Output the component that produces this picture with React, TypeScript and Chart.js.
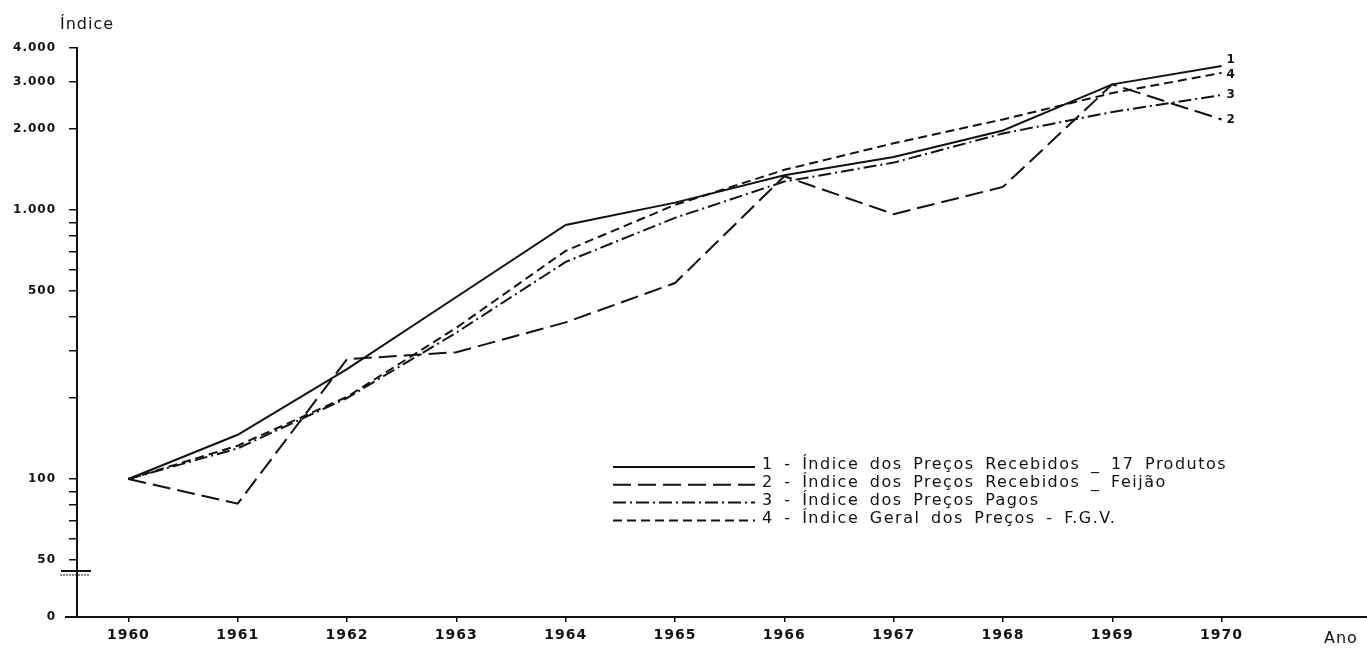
import React, { useEffect, useRef } from 'react';
import { Chart, registerables } from 'chart.js';

Chart.register(...registerables);

// ---- data ----
const YEARS = [1960, 1961, 1962, 1963, 1964, 1965, 1966, 1967, 1968, 1969, 1970];
const RECEBIDOS_17_PRODUTOS = [100, 146, 256, 475, 880, 1065, 1345, 1575, 1975, 2930, 3430];
const RECEBIDOS_FEIJAO = [100, 81, 279, 296, 382, 535, 1335, 965, 1218, 2930, 2170];
const PRECOS_PAGOS = [100, 130, 200, 350, 641, 935, 1275, 1500, 1925, 2313, 2676];
const GERAL_FGV = [100, 133, 202, 365, 705, 1045, 1410, 1770, 2170, 2720, 3232];

const SERIES_NAMES = [
  '1 - Índice dos Preços Recebidos _ 17 Produtos',
  '2 - Índice dos Preços Recebidos _ Feijão',
  '3 - Índice dos Preços Pagos',
  '4 - Índice Geral dos Preços - F.G.V.',
];
const END_TAGS = ['1', '2', '3', '4'];

const Y_TICK_VALUES = [50, 60, 70, 80, 90, 100, 200, 300, 400, 500, 600, 700, 800, 900, 1000, 2000, 3000, 4000];
const Y_TICK_LABELS: Record<number, string> = {
  50: '50', 100: '100', 500: '500', 1000: '1.000', 2000: '2.000', 3000: '3.000', 4000: '4.000',
};
const Y_ZERO = 30.7; // bottom of the broken axis, labelled "0"
const Y_ZERO_LABEL = '0';
const Y_MAX = 4000;
const X_MIN = 1959.53;
const X_MAX = 1971.33;
const Y_TITLE = 'Índice';
const X_TITLE = 'Ano';

const INK = '#111';
const FONT = '"DejaVu Sans", sans-serif';

const decorPlugin = {
  id: 'decor',
  beforeDraw(chart: any) {
    const ctx = chart.ctx;
    ctx.fillStyle = '#fff';
    ctx.fillRect(0, 0, chart.width, chart.height);
    (ctx as any).letterSpacing = '1px';
  },
  afterDraw(chart: any) {
    const ctx = chart.ctx;
    const { left, bottom } = chart.chartArea;
    const yScale = chart.scales.y;
    ctx.save();
    (ctx as any).letterSpacing = '0px';
    ctx.strokeStyle = INK;
    ctx.fillStyle = INK;
    ctx.setLineDash([]);

    // extend x axis a bit to the left of the y axis
    ctx.lineWidth = 2;
    ctx.beginPath();
    ctx.moveTo(left - 12, bottom);
    ctx.lineTo(left, bottom);
    ctx.stroke();

    // axis break marks
    const yb = yScale.getPixelForValue(50) + 11;
    ctx.lineWidth = 2;
    ctx.beginPath();
    ctx.moveTo(left - 16, yb);
    ctx.lineTo(left + 14, yb);
    ctx.stroke();
    ctx.lineWidth = 1;
    ctx.setLineDash([2, 1]);
    ctx.beginPath();
    ctx.moveTo(left - 17, yb + 4);
    ctx.lineTo(left + 13, yb + 4);
    ctx.stroke();
    ctx.setLineDash([]);

    // titles
    (ctx as any).letterSpacing = '1px';
    ctx.font = `16px ${FONT}`;
    ctx.textAlign = 'left';
    ctx.textBaseline = 'middle';
    ctx.fillText(Y_TITLE, 60, 25);
    ctx.fillText(X_TITLE, 1324, 639);

    // end tags
    ctx.font = `bold 12px ${FONT}`;
    chart.data.datasets.forEach((ds: any, i: number) => {
      const meta = chart.getDatasetMeta(i);
      const last = meta.data[meta.data.length - 1];
      const dy = i === 0 ? -6 : i === 3 ? 2 : 0;
      ctx.fillText(END_TAGS[i], last.x + 5, last.y + dy);
    });

    // legend
    const x0 = 613, x1 = 755, tx = 762, ry = 465, step = 17.8;
    ctx.font = `16px ${FONT}`;
    (ctx as any).letterSpacing = '1.5px';
    (ctx as any).wordSpacing = '4px';
    chart.data.datasets.forEach((ds: any, i: number) => {
      const y = ry + i * step;
      ctx.lineWidth = ds.borderWidth;
      ctx.setLineDash(ds.borderDash || []);
      ctx.beginPath();
      ctx.moveTo(x0, y + 2);
      ctx.lineTo(x1, y + 2);
      ctx.stroke();
      ctx.setLineDash([]);
      ctx.fillText(ds.label, tx, y);
    });
    (ctx as any).wordSpacing = '0px';
    ctx.restore();
  },
};

export default function App() {
  const ref = useRef<HTMLCanvasElement | null>(null);

  useEffect(() => {
    if (!ref.current) return;
    const mk = (label: string, ys: number[], dash: number[]) => ({
      label,
      data: YEARS.map((x, i) => ({ x, y: ys[i] })),
      borderColor: INK,
      backgroundColor: INK,
      borderWidth: 2,
      borderDash: dash,
      pointRadius: 0,
      tension: 0,
      fill: false,
    });
    const chart = new Chart(ref.current, {
      type: 'line',
      data: {
        datasets: [
          mk(SERIES_NAMES[0], RECEBIDOS_17_PRODUTOS, []),
          mk(SERIES_NAMES[1], RECEBIDOS_FEIJAO, [18, 7]),
          mk(SERIES_NAMES[2], PRECOS_PAGOS, [13, 4, 2, 4]),
          mk(SERIES_NAMES[3], GERAL_FGV, [9, 5]),
        ],
      },
      options: {
        animation: false,
        responsive: false,
        devicePixelRatio: 1,
        layout: { padding: { top: 48, left: 0, right: 0, bottom: 0 } },
        plugins: { legend: { display: false }, tooltip: { enabled: false } },
        scales: {
          x: {
            type: 'linear',
            min: X_MIN,
            max: X_MAX,
            afterBuildTicks: (s: any) => {
              s.ticks = YEARS.map((v) => ({ value: v }));
            },
            afterFit: (s: any) => {
              s.height = 36;
            },
            border: { display: true, color: INK, width: 2 },
            grid: { drawOnChartArea: false, drawTicks: true, tickLength: 5, color: INK, lineWidth: 1.5 },
            ticks: {
              autoSkip: false,
              maxRotation: 0,
              padding: 5,
              color: INK,
              font: { family: FONT, weight: 'bold', size: 14 },
              callback: (v: any) => String(v),
            },
          },
          y: {
            type: 'logarithmic',
            min: Y_ZERO,
            max: Y_MAX,
            afterBuildTicks: (s: any) => {
              s.ticks = [Y_ZERO, ...Y_TICK_VALUES].map((v) => ({ value: v }));
            },
            afterFit: (s: any) => {
              s.width = 77;
            },
            border: { display: true, color: INK, width: 2 },
            grid: { drawOnChartArea: false, drawTicks: true, tickLength: 8, color: INK, lineWidth: 1.5 },
            ticks: {
              autoSkip: false,
              padding: 13,
              color: INK,
              font: { family: FONT, weight: 'bold', size: 12 },
              callback: (v: any) => (v === Y_ZERO ? Y_ZERO_LABEL : Y_TICK_LABELS[v] ?? ''),
            },
          },
        },
      } as any,
      plugins: [decorPlugin],
    });
    return () => chart.destroy();
  }, []);

  return (
    <div style={{ position: 'fixed', left: 0, top: 0, width: 1367, height: 653, background: '#fff' }}>
      <canvas ref={ref} width={1367} height={653} style={{ display: 'block' }} />
    </div>
  );
}
